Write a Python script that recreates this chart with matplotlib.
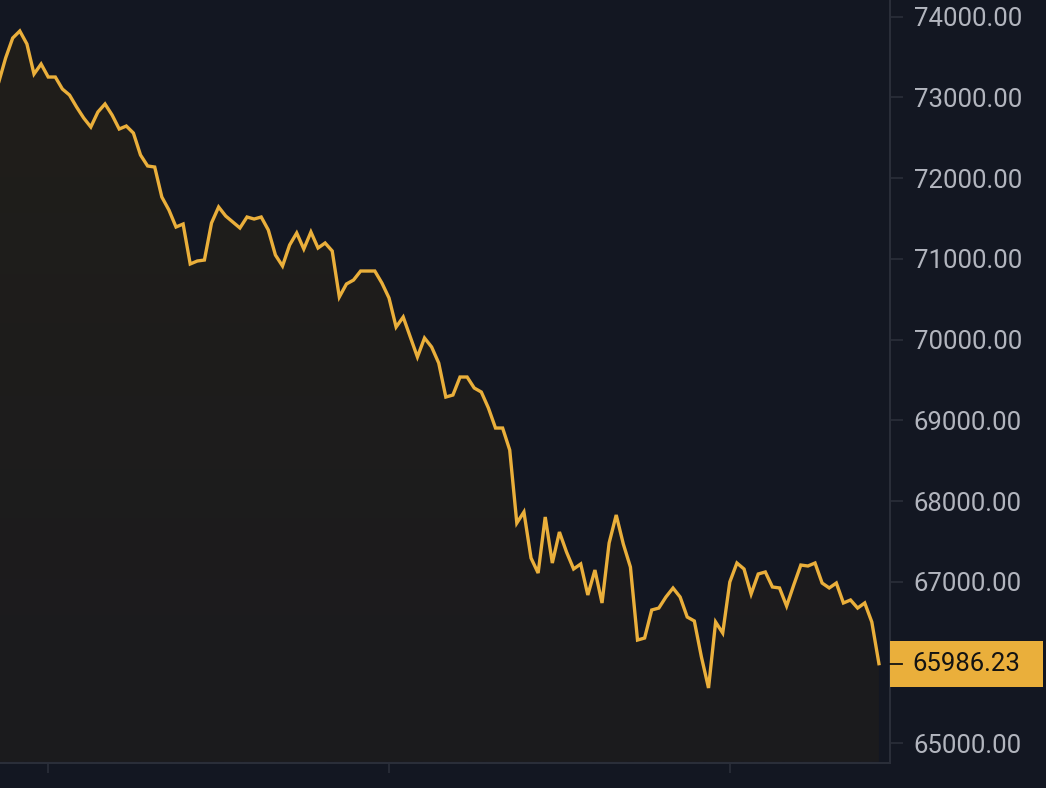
import numpy as np
import matplotlib
matplotlib.use('Agg')
import matplotlib.pyplot as plt
import matplotlib.transforms as mtransforms
from matplotlib.patches import Rectangle, Polygon
from matplotlib.colors import LinearSegmentedColormap

# prices (30 min steps)
price = [73179, 73488, 73736, 73823, 73662, 73290, 73414, 73253, 73253, 73104,
         73030, 72881, 72745, 72634, 72820, 72919, 72782, 72609, 72646, 72559,
         72287, 72151, 72138, 71767, 71606, 71395, 71432, 70937, 70974, 70986,
         71445, 71643, 71531, 71457, 71383, 71519, 71494, 71519, 71358, 71048,
         70912, 71172, 71321, 71123, 71333, 71135, 71197, 71098, 70528, 70689,
         70738, 70850, 70850, 70850, 70701, 70516, 70156, 70280, 70032, 69785,
         70020, 69909, 69710, 69289, 69314, 69537, 69537, 69401, 69351, 69153,
         68905, 68905, 68633, 67728, 67865, 67295, 67109, 67803, 67233, 67617,
         67369, 67159, 67221, 66837, 67146, 66738, 67481, 67828, 67468, 67183,
         66279, 66304, 66651, 66675, 66812, 66923, 66812, 66564, 66515, 66069,
         65685, 66502, 66366, 66998, 67233, 67159, 66849, 67097, 67122, 66936,
         66924, 66700, 66960, 67208, 67196, 67233, 66985, 66924, 66985, 66738,
         66775, 66675, 66738, 66502, 65986.23]
last_price = 65986.23
yticks = [65000, 66000, 67000, 68000, 69000, 70000, 71000, 72000, 73000, 74000]
xtick_pos = [7, 55, 103]
xtick_labels = ['14 Mar', '15 Mar', '16 Mar']

bg = '#131722'
gold = '#eaaf3b'
grid_col = '#2a2e39'
txt_col = '#b2b5be'

plt.rcParams['font.family'] = ['Roboto', 'DejaVu Sans']

fig = plt.figure(figsize=(10.46, 7.88), dpi=100, facecolor=bg)
ax = fig.add_axes([0, 25.5 / 788, 890 / 1046, 1 - 25.5 / 788])
ax.set_facecolor(bg)

x = np.arange(len(price))
ymin, ymax = 64762, 74207
ax.set_xlim(0.21, 125.56)
ax.set_ylim(ymin, ymax)

# gradient area under the line
cmap = LinearSegmentedColormap.from_list('g', ['#1b1b1e', '#201e1a'])
grad = np.linspace(0, 1, 256).reshape(-1, 1)
im = ax.imshow(grad, cmap=cmap, aspect='auto', origin='lower',
               extent=[x[0], x[-1], ymin, max(price)], zorder=1)
verts = [(x[0], ymin)] + list(zip(x, price)) + [(x[-1], ymin)]
poly = Polygon(verts, closed=True, facecolor='none', edgecolor='none')
ax.add_patch(poly)
im.set_clip_path(poly)

ax.plot(x, price, color=gold, lw=2.4, zorder=3, solid_joinstyle='miter')

# axes styling
for s in ['top', 'left']:
    ax.spines[s].set_visible(False)
ax.spines['right'].set_color(grid_col)
ax.spines['bottom'].set_color(grid_col)
ax.spines['right'].set_linewidth(1.5)
ax.spines['bottom'].set_linewidth(1.5)

ax.yaxis.tick_right()
ax.set_yticks(yticks)
ax.set_yticklabels(['%.2f' % v for v in yticks])
ax.tick_params(axis='y', colors=grid_col, labelcolor=txt_col, length=9, width=1.2,
               pad=8, labelsize=18.5)
ax.set_xticks(xtick_pos)
ax.set_xticklabels(xtick_labels)
ax.tick_params(axis='x', colors=grid_col, labelcolor=txt_col, length=7, width=1.2,
               pad=13, labelsize=18.5)

# last price label
trans = mtransforms.blended_transform_factory(ax.transAxes, ax.transData)
h = 46 * (ymax - ymin) / 762.5
ax.add_patch(Rectangle((1.0, last_price - h / 2), (1043 - 890) / 890, h,
                       transform=trans, facecolor=gold, edgecolor='none',
                       clip_on=False, zorder=5))
ax.plot([1.0, 1.0 + 12 / 890], [last_price, last_price], transform=trans,
        color='#131313', lw=1.3, clip_on=False, zorder=6)
ax.text(1.0 + 22 / 890, last_price, '%.2f' % last_price, transform=trans,
        color='#131313', fontsize=18.5, va='center', ha='left', zorder=7)

fig.savefig('out.png', dpi=100, facecolor=bg)
